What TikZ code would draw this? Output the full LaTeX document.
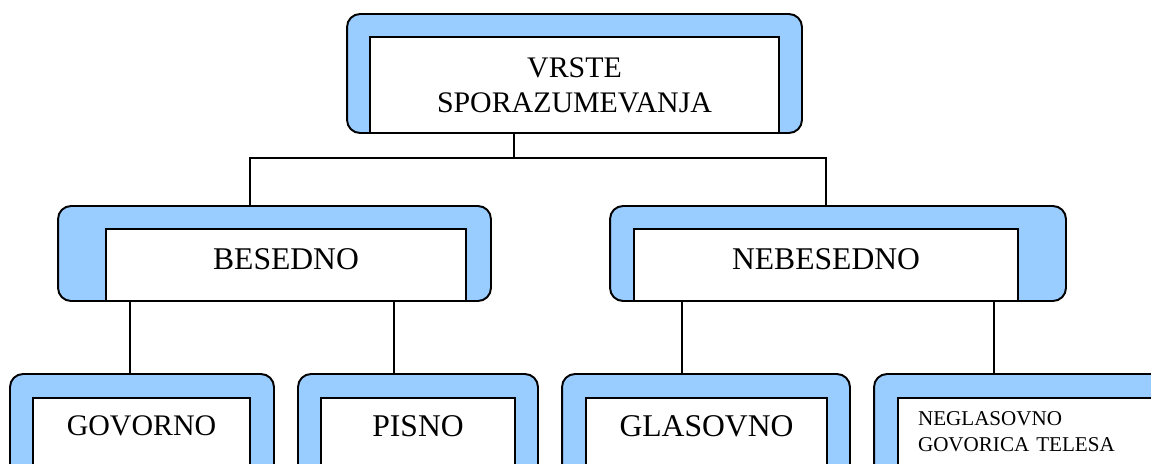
\documentclass[tikz,border=0pt]{standalone}
\usepackage{fontspec}
\setmainfont{Liberation Serif}
\usepackage{xcolor}
\definecolor{Col1}{RGB}{153,204,255}
\usepackage{tikz}
\tikzstyle{Frame}=[rectangle,rounded corners=0.26cm,draw=black,fill=Col1,
line width=1.1pt,inner sep=0pt]
\tikzstyle{Box}=[rectangle,draw=black,fill=white,line width=1.1pt,inner sep=0pt,
font=\fontsize{18}{20}\selectfont,align=center]
\tikzstyle{BoxLow}=[Box,text depth=0.72cm]
\tikzstyle{BoxSmall}=[Box,font=\fontsize{12}{14.8}\selectfont,align=left,
inner xsep=0.4cm,text width=4.56cm,text depth=1.0cm]
\tikzstyle{Edge}=[draw=black,line width=0.8pt]

\begin{document}
\begin{tikzpicture}[x=0.02cm,y=-0.02cm]
        \useasboundingbox(0,0)rectangle(1151,463);
        \clip(0,0)rectangle(1151,463);
        % joints of the connectors
        \coordinate(t)at(514.00,158.00);
        \coordinate(tl)at(250.00,158.00);
        \coordinate(tr)at(826.00,158.00);
        \coordinate(b1)at(130.00,340.00);
        \coordinate(b2)at(394.00,340.00);
        \coordinate(n1)at(682.00,340.00);
        \coordinate(n2)at(994.00,340.00);
        % frames
        \node[Frame,minimum width=9.10cm,minimum height=2.38cm](Vrste)at(574.50,73.50){};
        \node[Frame,minimum width=8.66cm,minimum height=1.90cm](Besedno)at(274.50,253.50){};
        \node[Frame,minimum width=9.12cm,minimum height=1.90cm](Nebesedno)at(838.00,253.50){};
        \node[Frame,minimum width=5.28cm,minimum height=2.32cm](Govorno)at(142.00,432.00){};
        \node[Frame,minimum width=4.80cm,minimum height=2.32cm](Pisno)at(418.00,432.00){};
        \node[Frame,minimum width=5.76cm,minimum height=2.32cm](Glasovno)at(706.00,432.00){};
        \node[Frame,minimum width=6.32cm,minimum height=2.32cm](Neglasovno)at(1032.00,432.00){};
        % inner boxes with the words
        \node[Box,font=\fontsize{17}{19.9}\selectfont,minimum width=8.18cm,minimum height=1.92cm](VrsteIn)at(574.50,85.00){VRSTE\\SPORAZUMEVANJA};
        \node[Box,minimum width=7.20cm,minimum height=1.44cm,text depth=0.24cm](BesednoIn)at(286.00,265.00){BESEDNO};
        \node[Box,minimum width=7.68cm,minimum height=1.44cm,text depth=0.24cm](NebesednoIn)at(826.00,265.00){NEBESEDNO};
        \node[BoxLow,font=\fontsize{17}{20}\selectfont,minimum width=4.34cm,minimum height=1.84cm](GovornoIn)at(141.50,444.00){GOVORNO};
        \node[BoxLow,minimum width=3.88cm,minimum height=1.84cm](PisnoIn)at(418.00,444.00){PISNO};
        \node[BoxLow,minimum width=4.82cm,minimum height=1.84cm](GlasovnoIn)at(706.50,444.00){GLASOVNO};
        \node[BoxSmall,minimum width=5.36cm,minimum height=1.84cm](NeglasovnoIn)at(1032.00,444.00){NEGLASOVNO\\GOVORICA TELESA};
        % connectors
        \draw[Edge](Vrste.south -| t)--(t);
        \draw[Edge](Besedno.north -| tl)--(tl)--(tr)--(Nebesedno.north -| tr);
        \draw[Edge](Besedno.south -| b1)--(Govorno.north -| b1);
        \draw[Edge](Besedno.south -| b2)--(Pisno.north -| b2);
        \draw[Edge](Nebesedno.south -| n1)--(Glasovno.north -| n1);
        \draw[Edge](Nebesedno.south -| n2)--(Neglasovno.north -| n2);
    \end{tikzpicture}
\end{document}
